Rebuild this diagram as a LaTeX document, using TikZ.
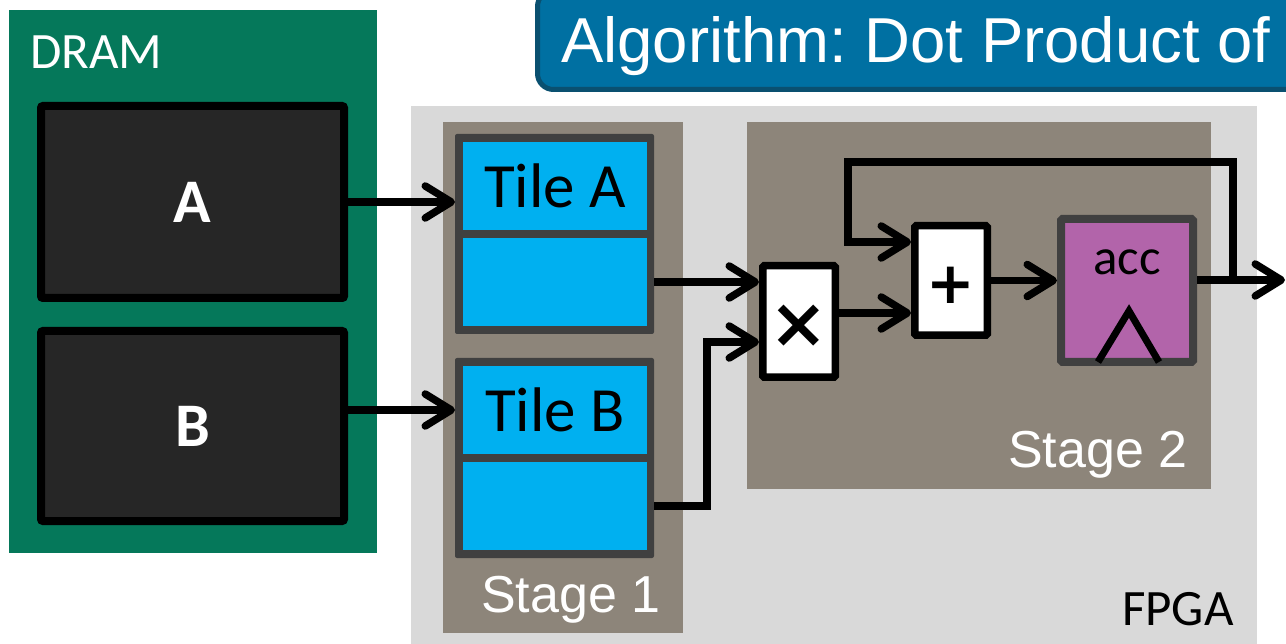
\documentclass[tikz,border=0pt]{standalone}
\usepackage{fontspec}
\setmainfont{Carlito}
\newfontfamily\arialfont{Liberation Sans}
\newfontfamily\symfont{DejaVu Sans}
\usetikzlibrary{arrows.meta}
\frenchspacing

\definecolor{dramgreen}{RGB}{5,120,90}
\definecolor{titleblue}{RGB}{0,112,162}
\definecolor{titleedge}{RGB}{10,80,112}
\definecolor{fpgagray}{RGB}{217,217,217}
\definecolor{stagebrown}{RGB}{141,133,122}
\definecolor{tilecyan}{RGB}{0,176,240}
\definecolor{darkedge}{RGB}{64,64,64}
\definecolor{memfill}{RGB}{38,38,38}
\definecolor{accpurple}{RGB}{178,100,170}

\tikzset{
  area/.style={rectangle, inner sep=0pt, outer sep=0pt},
  membox/.style={rectangle, inner sep=0pt, draw=black, line width=8pt,
    fill=memfill, rounded corners=2pt, minimum width=303pt},
  tilestack/.style={area, fill=darkedge, rounded corners=2pt,
    minimum width=199pt, minimum height=200pt},
  tilecell/.style={area, fill=tilecyan, minimum width=184pt, minimum height=88pt},
  opbox/.style={rectangle, inner sep=0pt, draw=black, line width=7.5pt,
    fill=white, rounded corners=1.5pt, minimum width=72.5pt},
  wire/.style={line width=7.5pt, draw=black},
  >={Straight Barb[length=26pt,width=32pt,round]},
  bigtext/.style={inner sep=0pt, font=\fontsize{63}{63}\selectfont},
  midtext/.style={inner sep=0pt, font=\fontsize{51}{51}\selectfont},
  stagetext/.style={inner sep=0pt, text=white, font=\arialfont\fontsize{52}{52}\selectfont},
  optext/.style={inner sep=0pt, font=\symfont\bfseries\fontsize{58}{58}\selectfont},
}

\begin{document}
\begin{tikzpicture}[x=1pt, y=-1pt]
\useasboundingbox (0,0) rectangle (1286,644);
\fill[white] (0,0) rectangle (1286,644);

% off-chip memory
\node[area, fill=dramgreen, minimum width=368pt, minimum height=543pt] (dram) at (193,281.5) {};
\node[anchor=base west, midtext, text=white] (dramlabel) at (30,69) {DRAM};
\node[membox, minimum height=192pt] (dA) at (192.5,202) {};
\node[membox, minimum height=190pt] (dB) at (192.5,426) {};
\node[bigtext, text=white, font=\bfseries\fontsize{62}{62}\selectfont] (lA) at (dA) {A};
\node[bigtext, text=white, font=\bfseries\fontsize{62}{62}\selectfont] (lB) at (dB) {B};

% FPGA region
\node[area, fill=fpgagray, minimum width=846pt, minimum height=542pt] (fpga) at (834,377) {};
\node[anchor=base west, midtext] (fpgalabel) at (1122,625) {FPGA};

% title banner
\node[rectangle, inner sep=0pt, draw=titleedge, fill=titleblue, line width=5pt,
      rounded corners=16pt, minimum width=770pt, minimum height=99pt] (title) at (922.5,40) {};
\node[anchor=base west, inner sep=0pt, text=white,
      font=\arialfont\fontsize{63.5}{63.5}\selectfont] (titletext) at (561,63) {Algorithm: Dot Product of};

% pipeline stages
\node[area, fill=stagebrown, minimum width=240pt, minimum height=511pt] (stage1) at (563,377.5) {};
\node[area, fill=stagebrown, minimum width=464pt, minimum height=367pt] (stage2) at (979,305.5) {};
\node[anchor=base west, stagetext] (s1label) at (481,612) {Stage 1};
\node[anchor=base west, stagetext] (s2label) at (1008,467) {Stage 2};

% double-buffered tiles
\node[tilestack] (tA) at (554.5,234) {};
\node[tilecell] (tA1) at (555,186) {};
\node[tilecell] (tA2) at (555,282) {};
\node[bigtext] (tAlabel) at (tA1) {Tile A};
\node[tilestack] (tB) at (554.5,458) {};
\node[tilecell] (tB1) at (555,410) {};
\node[tilecell] (tB2) at (555,506) {};
\node[bigtext] (tBlabel) at (tB1) {Tile B};

% multiply, add, accumulator
\node[opbox, minimum height=111.5pt] (mul) at (799,321.5) {};
\node[optext, font=\symfont\bfseries\fontsize{70}{70}\selectfont] (multext) at (798.5,326) {×};
\node[opbox, minimum height=109.5pt] (add) at (951,280.5) {};
\node[optext] (addtext) at (951,285) {+};
\node[rectangle, inner sep=0pt, draw=darkedge, fill=accpurple, line width=8pt,
      rounded corners=1.5pt, minimum width=132pt, minimum height=143pt] (acc) at (1127,290.5) {};
\node[anchor=base, midtext] (acclabel) at (1127,275) {acc};
\draw[line width=7pt] (1098,362) -- (1129,311) -- (1159,362);

% data paths
\draw[wire, ->] (dA.east) -- (dA.east -| tA.west);
\draw[wire, ->] (tB1 -| dB.east) -- (tB1 -| tB.west);
\draw[wire, ->] (tA2 -| tA.east) -- (tA2 -| mul.west);
\coordinate (bendB) at (707,342);
\draw[wire, ->] (tB2 -| tB.east) -| (bendB) -- (bendB -| mul.west);
\draw[wire, ->] ([yshift=8.5pt]mul.east) -- ([yshift=8.5pt]mul.east -| add.west);
\draw[wire, ->] (add.east) -- (add.east -| acc.west);
\coordinate (out) at (1285,280);
\draw[wire, ->] ([yshift=10.5pt]acc.east) -- (out);
\coordinate (fbR) at (1233,280);
\coordinate (fbL) at (848,162);
\draw[wire, ->] (fbR) |- (fbL) |- ([yshift=38.5pt]add.west);
\end{tikzpicture}
\end{document}
